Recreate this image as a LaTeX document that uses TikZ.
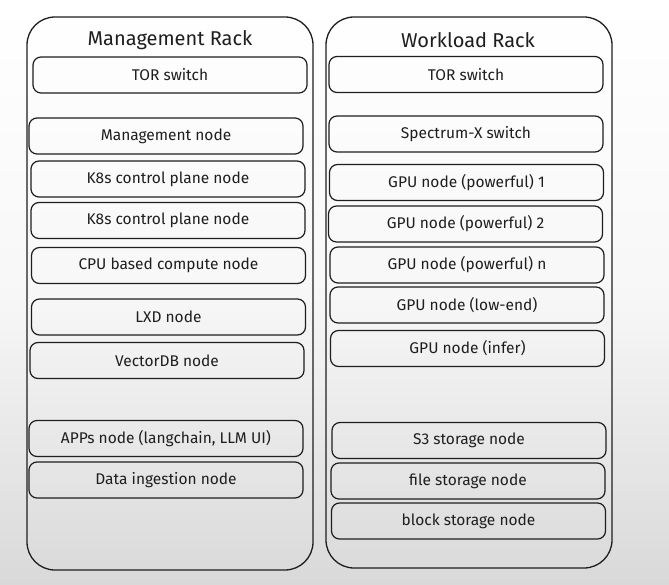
\documentclass[tikz,border=0pt]{standalone}
\usepackage{fontspec}
\setmainfont{Fira Sans}
\definecolor{ink}{HTML}{1E1E1E}
\begin{document}
\begin{tikzpicture}[x=1pt,y=-1pt,
  rack/.style={draw=ink, line width=1.3pt, rounded corners=28pt, minimum width=286pt, inner sep=0pt},
  nodebox/.style={draw=ink, line width=1.2pt, rounded corners=8pt, minimum width=274pt, minimum height=36pt, inner sep=0pt, text=ink, font=\fontsize{15.5}{18}\selectfont},
  racktitle/.style={text=ink, inner sep=0pt, font=\fontsize{20}{23}\selectfont}]
\shade[top color=white, bottom color=black!15, middle color=white!97!black] (0,0) rectangle (669,585);
\useasboundingbox (0,0) rectangle (669,585);
% racks
\node[rack, minimum height=553pt] (lrack) at (170,293.5) {};
\node[rack, minimum height=551pt] (rrack) at (469,292.5) {};
\node[racktitle] (ltitle) at (170,40) {Management Rack};
\node[racktitle] (rtitle) at (468,40) {Workload Rack};
% left rack
\node[nodebox] (ltor) at (170,75) {TOR switch};
\node[nodebox] (lmgmt) at (166,136) {Management node};
\node[nodebox] (lk8sa) at (168,179) {K8s control plane node};
\node[nodebox] (lk8sb) at (168,220.5) {K8s control plane node};
\node[nodebox] (lcpu) at (168.5,265.5) {CPU based compute node};
\node[nodebox] (llxd) at (168.5,317) {LXD node};
\node[nodebox] (lvec) at (167,360.5) {VectorDB node};
\node[nodebox] (lapps) at (166,438.5) {APPs node (langchain, LLM UI)};
\node[nodebox] (ldata) at (166,480) {Data ingestion node};
% right rack
\node[nodebox] (rtor) at (466,74.5) {TOR switch};
\node[nodebox] (rspec) at (466,134) {Spectrum-X switch};
\node[nodebox] (rgpua) at (466.5,182.5) {GPU node (powerful) 1};
\node[nodebox] (rgpub) at (465.5,224) {GPU node (powerful) 2};
\node[nodebox] (rgpun) at (467,265) {GPU node (powerful) n};
\node[nodebox] (rgpul) at (467,305) {GPU node (low-end)};
\node[nodebox] (rgpui) at (467.5,348.5) {GPU node (infer)};
\node[nodebox] (rsthree) at (469,440.5) {S3 storage node};
\node[nodebox] (rfile) at (468,481) {file storage node};
\node[nodebox] (rblock) at (468.5,521) {block storage node};
\end{tikzpicture}
\end{document}
